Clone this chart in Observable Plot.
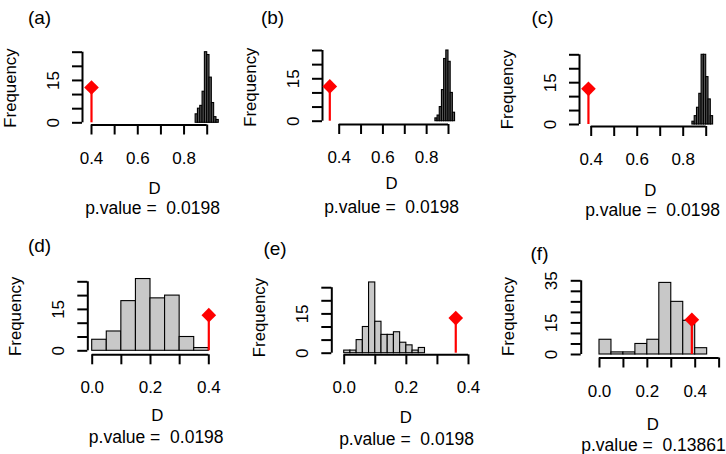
<!DOCTYPE html>
<html>
<head>
<meta charset="utf-8">
<script src="https://cdn.jsdelivr.net/npm/d3@7"></script>
<script src="https://cdn.jsdelivr.net/npm/@observablehq/plot@0.6"></script>
<style>
  html, body { margin: 0; padding: 0; background: #ffffff; }
  #chart { position: relative; width: 726px; height: 454px; overflow: hidden; background: #ffffff; }
  #chart svg { position: absolute; overflow: visible; }
  #chart [aria-label="x-axis tick"], #chart [aria-label="y-axis tick"] { stroke-width: 2px; }
</style>
</head>
<body>
<div id="chart"></div>
<script>
// ---------------- data ----------------
const panelTags = ["(a)", "(b)", "(c)", "(d)", "(e)", "(f)"];
const pValueText = ["0.0198", "0.0198", "0.0198", "0.0198", "0.0198", "0.13861"];
const axisTitle = "D";
const freqTitle = "Frequency";

// histogram bins: first break and bin width, then counts per bin
const binStarts = [0.85, 0.84, 0.84, 0, 0, 0];
const binWidths = [0.01, 0.01, 0.01, 0.05, 0.02, 0.05];
const countsA = [3, 5, 6, 11, 25, 24, 16, 7, 2, 1];
const countsB = [1, 2, 5, 11, 22, 25, 21, 10, 3];
const countsC = [1, 3, 6, 11, 25, 25, 17, 9, 3];
const countsD = [4, 7, 18, 26, 19, 20, 5, 1];
const countsE = [1, 1, 5, 10, 27, 12, 7, 7, 8, 4, 3, 1, 2];
const countsF = [7, 1, 1, 5, 7, 34, 25, 16, 3];
const allCounts = [countsA, countsB, countsC, countsD, countsE, countsF];

// observed statistic (red line + diamond)
const observedD = [0.40, 0.357, 0.388, 0.40, 0.359, 0.386];
const markerFreq = [12.5, 12.3, 12.8, 12.9, 13.4, 16.5];

// ticks and tick labels
const xTicksTop = [0.4, 0.5, 0.6, 0.7, 0.8, 0.9];
const xLabelsTop = [0.4, 0.6, 0.8];
const xTicksD = [0, 0.1, 0.2, 0.3, 0.4];
const xTicksF = [0, 0.1, 0.2, 0.3, 0.4, 0.5];
const xLabelsBottom = [0, 0.2, 0.4];
const yTicks25 = [0, 5, 10, 15, 20, 25];
const yTicks35 = [0, 5, 10, 15, 20, 25, 30, 35];
const yLabels25 = [0, 15];
const yLabels35 = [0, 15, 35];

const xTickSets = [xTicksTop, xTicksTop, xTicksTop, xTicksD, xTicksD, xTicksF];
const xLabelSets = [xLabelsTop, xLabelsTop, xLabelsTop, xLabelsBottom, xLabelsBottom, xLabelsBottom];
const yTickSets = [yTicks25, yTicks25, yTicks25, yTicks25, yTicks25, yTicks35];
const yLabelSets = [yLabels25, yLabels25, yLabels25, yLabels25, yLabels25, yLabels35];

// ---------------- layout (pixels, per panel) ----------------
const PW = 242, PH = 227;
const layout = [
  {ox: 0,   oy: 0,   frame: [82, 50.5, 226, 124.5],   xCal: [0.4, 91, 0.9, 206.7],  yCal: [0, 122.3, 25, 51.7], tag: [39, 17.5],   dPos: [154, 188.3],   pPos: [152, 208.3], barFill: "#555555"},
  {ox: 242, oy: 0,   frame: [80, 49.4, 218, 124],     xCal: [0.4, 96.7, 0.9, 206],  yCal: [0, 120.7, 25, 50],   tag: [30, 17.5],   dPos: [149, 183],     pPos: [149, 206.7], barFill: "#555555"},
  {ox: 484, oy: 0,   frame: [95, 52, 237, 126],       xCal: [0.4, 106.7, 0.9, 221.7], yCal: [0, 124, 25, 54.3], tag: [58, 17.5],   dPos: [165.7, 190],   pPos: [168, 210],   barFill: "#555555"},
  {ox: 0,   oy: 227, frame: [87.3, 50.3, 224.7, 127.3], xCal: [0, 91.7, 0.4, 208.3], yCal: [0, 123.3, 25, 54.3], tag: [39, 18.3],  dPos: [156.7, 188.3], pPos: [155.7, 210], barFill: "#c8c8c8"},
  {ox: 242, oy: 227, frame: [89.3, 52.7, 237.7, 127.3], xCal: [0, 101.7, 0.4, 226], yCal: [0, 125.7, 25, 60.2], tag: [32.5, 21.7], dPos: [163.3, 190],   pPos: [164, 211.7], barFill: "#c8c8c8"},
  {ox: 484, oy: 227, frame: [96.7, 47.3, 240.3, 130.5], xCal: [0, 115, 0.4, 210.7], yCal: [0, 127, 35, 53.3],  tag: [55, 26.7],   dPos: [168.3, 196.7], pPos: [169, 218.3], barFill: "#c8c8c8"}
];

const FONT = "'Liberation Sans', Arial, Helvetica, sans-serif";
const inv = (cal, px) => cal[0] + (px - cal[1]) * (cal[2] - cal[0]) / (cal[3] - cal[1]);
const fmtX = d3.format(".1f");

const chart = document.getElementById("chart");

panelTags.forEach((tag, i) => {
  const L = layout[i];
  const [left, top, right, bottom] = L.frame;
  const xDomain = [inv(L.xCal, left), inv(L.xCal, right)];
  const yDomain = [inv(L.yCal, bottom), inv(L.yCal, top)];
  const bins = allCounts[i].map((c, k) => ({
    x1: binStarts[i] + k * binWidths[i],
    x2: binStarts[i] + (k + 1) * binWidths[i],
    count: c
  }));
  const obs = [{d: observedD[i], h: markerFreq[i]}];
  const xT = xTickSets[i], xL = xLabelSets[i], yT = yTickSets[i], yL = yLabelSets[i];

  const svg = Plot.plot({
    width: PW,
    height: PH,
    marginLeft: left,
    marginRight: PW - right,
    marginTop: top,
    marginBottom: PH - bottom,
    style: {fontFamily: FONT, fontSize: "17px", color: "#000", background: "transparent", overflow: "visible"},
    x: {
      domain: xDomain,
      ticks: xT,
      tickSize: 10,
      tickPadding: 16.5,
      tickFormat: d => (xL.includes(d) ? fmtX(d) : ""),
      label: null
    },
    y: {
      domain: yDomain,
      ticks: yT,
      tickSize: 10,
      tickPadding: 14,
      tickRotate: -90,
      tickFormat: d => (yL.includes(d) ? String(d) : ""),
      label: null
    },
    marks: [
      Plot.rectY(bins, {x1: "x1", x2: "x2", y1: 0, y2: "count", fill: L.barFill, stroke: "#000", strokeWidth: 1.1}),
      Plot.ruleY([yDomain[0]], {x1: xT[0], x2: xT[xT.length - 1], stroke: "#000", strokeWidth: 2}),
      Plot.ruleX([xDomain[0]], {y1: yT[0], y2: yT[yT.length - 1], stroke: "#000", strokeWidth: 2}),
      Plot.ruleX(obs, {x: "d", y1: 0, y2: "h", stroke: "#ff0000", strokeWidth: 2.2}),
      Plot.dot(obs, {x: "d", y: "h", symbol: "diamond2", r: 6.6, fill: "#ff0000", stroke: "none"}),
      Plot.text([freqTitle], {text: d => d, frameAnchor: "left", rotate: -90, dx: -67, textAnchor: "middle", lineAnchor: "bottom", fontSize: 16.8}),
      Plot.text([tag], {text: d => d, frameAnchor: "top-left", dx: L.tag[0] - left, dy: L.tag[1] - top, textAnchor: "middle", lineAnchor: "middle", fontSize: 19}),
      Plot.text([axisTitle], {text: d => d, frameAnchor: "top-left", dx: L.dPos[0] - left, dy: L.dPos[1] - top, textAnchor: "middle", lineAnchor: "middle", fontSize: 16.8}),
      Plot.text(["p.value =  " + pValueText[i]], {text: d => d, frameAnchor: "top-left", dx: L.pPos[0] - left, dy: L.pPos[1] - top, textAnchor: "middle", lineAnchor: "middle", fontSize: 17.5})
    ]
  });
  svg.style.position = "absolute";
  svg.style.left = L.ox + "px";
  svg.style.top = L.oy + "px";
  chart.appendChild(svg);
});
</script>
</body>
</html>
